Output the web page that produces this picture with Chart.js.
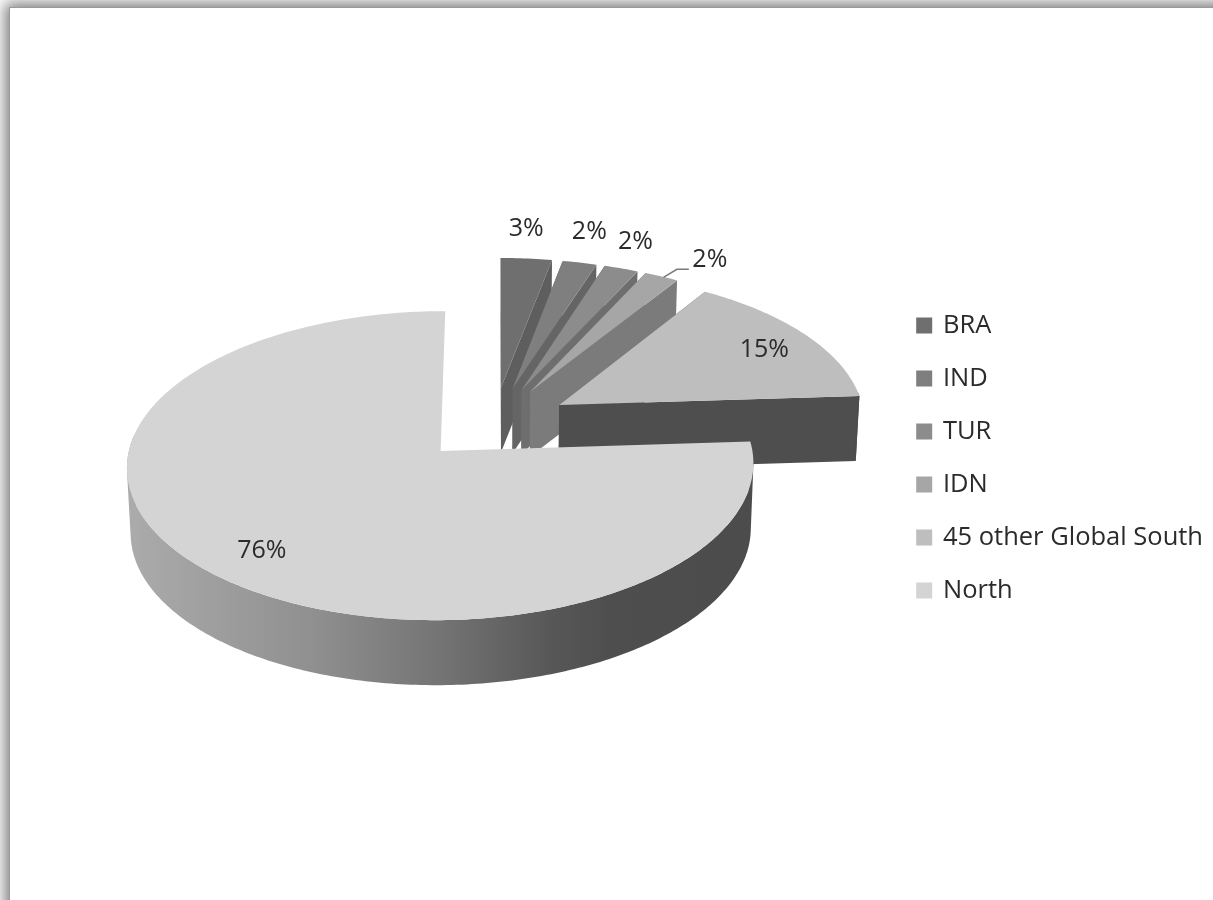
<!DOCTYPE html>
<html>
<head>
<meta charset="utf-8">
<title>Pie</title>
<script src="https://cdn.jsdelivr.net/npm/chart.js@4/dist/chart.umd.js"></script>
<style>
  html, body { margin: 0; padding: 0; width: 1213px; height: 900px; overflow: hidden; background: #fff; }
  #sheet { position: absolute; left: 9px; top: 7px; width: 1400px; height: 1100px; background: #fff;
           box-shadow: 0 0 14px 4px #7c7c7c; border-left: 1px solid #9a9a9a; border-top: 1px solid #9a9a9a; }
  canvas { position: absolute; left: 0; top: 0; }
</style>
</head>
<body>
<div id="sheet"></div>
<canvas id="pie" width="1320" height="900"></canvas>
<script>
const categories = ['BRA', 'IND', 'TUR', 'IDN', '45 other Global South', 'North'];
const shares = [3, 2, 2, 2, 15, 76];
const topColors = ['#6f6f6f', '#7f7f7f', '#8c8c8c', '#a6a6a6', '#bebebe', '#d4d4d4'];
const wallColors = ['#5e5e5e', '#656565', '#6e6e6e', '#7b7b7b', '#4e4e4e', '#4e4e4e'];
const explodePercent = 25;
const labelFont = '25px "Open Sans"';
const leaderSlice = 3;

// Perspective of the tilted disc: unit-disc coordinates to page pixels.
const view = { cx: 494, cy: 423.6, sx: 306.5, sy: 148, persp: 0.093, depth: 65, shrink: 0.99 };

function project(u, v) {
  const w = 1 + view.persp * v;
  return { x: view.cx + view.sx * u / w, y: view.cy - view.sy * v / w };
}
function projectBase(u, v) {
  const p = project(u, v);
  return { x: view.cx + (p.x - view.cx) * view.shrink, y: p.y + view.depth };
}

// Disc geometry of one arc element, angles measured clockwise from twelve o'clock.
function sliceGeometry(el) {
  const a0 = el.startAngle + Math.PI / 2;
  const a1 = el.endAngle + Math.PI / 2;
  const mid = (a0 + a1) / 2;
  const d = el.options.offset / 100;
  return { a0, a1, mid, ox: d * Math.sin(mid), oy: d * Math.cos(mid) };
}
function rimAngles(g) {
  const list = [];
  const steps = Math.max(4, Math.ceil((g.a1 - g.a0) / 0.015));
  for (let i = 0; i <= steps; i++) list.push(g.a0 + (g.a1 - g.a0) * i / steps);
  return list;
}
function rimPoint(g, t, fn) {
  return fn(g.ox + Math.sin(t), g.oy + Math.cos(t));
}
function addPoly(ctx, pts) {
  pts.forEach((p, i) => (i ? ctx.lineTo(p.x, p.y) : ctx.moveTo(p.x, p.y)));
  ctx.closePath();
}
function fillPoly(ctx, pts, fill) {
  ctx.beginPath();
  addPoly(ctx, pts);
  ctx.fillStyle = fill;
  ctx.fill();
}
function signedArea(pts) {
  let sum = 0;
  pts.forEach((p, i) => {
    const q = pts[(i + 1) % pts.length];
    sum += p.x * q.y - q.x * p.y;
  });
  return sum;
}

const tiltedPie = {
  id: 'tiltedPie',
  beforeDatasetDraw(chart, args) {
    const ctx = chart.ctx;
    const arcs = chart.getDatasetMeta(args.index).data;
    const last = arcs.length - 1;
    const shade = ctx.createLinearGradient(130, 0, 750, 0);
    shade.addColorStop(0, '#ababab');
    shade.addColorStop(0.3, '#8f8f8f');
    shade.addColorStop(0.5, '#747474');
    shade.addColorStop(0.68, '#575757');
    shade.addColorStop(0.78, '#4e4e4e');
    shade.addColorStop(1, '#4c4c4c');
    ctx.save();
    arcs.forEach((el, i) => {
      const g = sliceGeometry(el);
      const angles = rimAngles(g);
      const apexTop = project(g.ox, g.oy);
      const apexBase = projectBase(g.ox, g.oy);
      const first = angles[0];
      const end = angles[angles.length - 1];

      // cut faces; the big slice hides its own behind its top face
      if (i !== last) {
        fillPoly(ctx, [apexTop, rimPoint(g, first, project), rimPoint(g, first, projectBase), apexBase], wallColors[i]);
        fillPoly(ctx, [apexTop, rimPoint(g, end, project), rimPoint(g, end, projectBase), apexBase], wallColors[i]);
      }

      // rounded outer wall: the viewer-facing strips joined into one path, shaded left to right
      ctx.beginPath();
      for (let k = 0; k + 1 < angles.length; k++) {
        const t = (angles[k] + angles[k + 1]) / 2;
        if (Math.cos(t) > 0.1) continue;
        const strip = [
          rimPoint(g, angles[k], project), rimPoint(g, angles[k + 1], project),
          rimPoint(g, angles[k + 1], projectBase), rimPoint(g, angles[k], projectBase)
        ];
        addPoly(ctx, signedArea(strip) < 0 ? strip.reverse() : strip);
      }
      ctx.fillStyle = shade;
      ctx.fill();

      // top face
      fillPoly(ctx, [apexTop].concat(angles.map(t => rimPoint(g, t, project))), el.options.backgroundColor);
    });
    ctx.restore();
    return false;
  },
  afterDatasetsDraw(chart) {
    const ctx = chart.ctx;
    const arcs = chart.getDatasetMeta(0).data;
    const reach = [1.26, 1.26, 1.235, 1.22, 0.81, 0.8];
    const nudge = [[-6, 0], [-6, -1], [-7, -1], [22, 7], [4, 2], [5, 5]];
    ctx.save();
    ctx.font = labelFont;
    ctx.fillStyle = '#2b2b2b';
    ctx.textAlign = 'center';
    ctx.textBaseline = 'middle';
    arcs.forEach((el, i) => {
      const g = sliceGeometry(el);
      const p = project(g.ox + reach[i] * Math.sin(g.mid), g.oy + reach[i] * Math.cos(g.mid));
      const x = p.x + nudge[i][0];
      const y = p.y + nudge[i][1];
      ctx.fillText(shares[i] + '%', x, y);

      // leader line for the label pushed away from its slice
      if (i === leaderSlice) {
        const rim = project(g.ox + Math.sin(g.mid), g.oy + Math.cos(g.mid));
        ctx.strokeStyle = '#7a7a7a';
        ctx.lineWidth = 1.5;
        ctx.beginPath();
        ctx.moveTo(rim.x + 2, rim.y + 1);
        ctx.lineTo(x - 33, y + 9);
        ctx.lineTo(x - 21, y + 9);
        ctx.stroke();
      }
    });
    ctx.restore();
  }
};

new Chart(document.getElementById('pie'), {
  type: 'pie',
  data: {
    labels: categories,
    datasets: [{
      data: shares,
      backgroundColor: topColors,
      borderWidth: 0,
      offset: explodePercent
    }]
  },
  plugins: [tiltedPie],
  options: {
    responsive: false,
    animation: false,
    layout: { padding: { top: 16, right: 107 } },
    plugins: {
      tooltip: { enabled: false },
      legend: {
        position: 'right',
        labels: {
          color: '#2b2b2b',
          font: { family: 'Open Sans', size: 25.5 },
          boxWidth: 12,
          boxHeight: 12,
          padding: 27.5,
          generateLabels(chart) {
            return Chart.overrides.doughnut.plugins.legend.labels.generateLabels(chart).map(item => {
              item.strokeStyle = item.fillStyle;
              item.lineWidth = 4;
              return item;
            });
          }
        }
      }
    }
  }
});
</script>
</body>
</html>
